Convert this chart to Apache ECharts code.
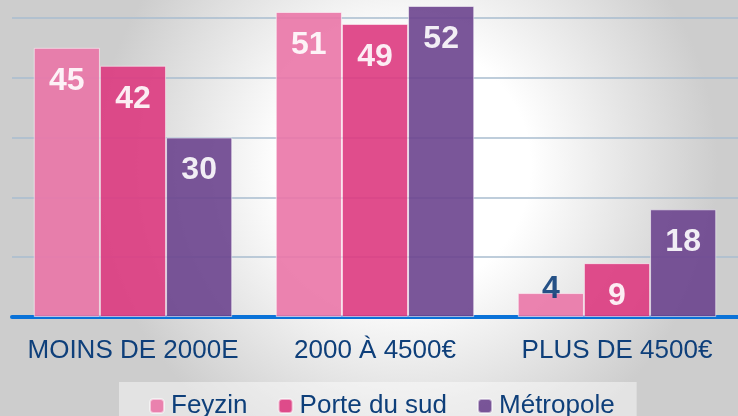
<!DOCTYPE html>
<html>
<head>
<meta charset="utf-8">
<script src="https://cdn.jsdelivr.net/npm/echarts@6/dist/echarts.min.js"></script>
<style>
  html, body { margin: 0; padding: 0; }
  #chart { width: 738px; height: 416px; }
</style>
</head>
<body>
<div id="chart"></div>
<script>
// revenus par tranche, en %
var categories = ['MOINS DE 2000E', '2000 À 4500€', 'PLUS DE 4500€'];
var seriesNames = ['Feyzin', 'Porte du sud', 'Métropole'];
var feyzin = [45, 51, 4];
var porteDuSud = [42, 49, 9];
var metropole = [30, 52, 18];

var colors = ['#ea76a7', '#dd3a80', '#6b448e'];
var navy = '#0e3f7a';

function barLabel(v) {
  // small bars get the number above, in dark blue
  if (v < 6) {
    return { value: v, label: { position: 'insideBottom', distance: 12, color: navy } };
  }
  return v;
}

function makeSeries(name, values, idx) {
  return {
    name: name,
    type: 'bar',
    barGap: 0,
    barCategoryGap: '18%',
    itemStyle: {
      color: colors[idx],
      opacity: 0.9,
      borderColor: 'rgba(255,255,255,0.6)',
      borderWidth: 1
    },
    label: {
      show: true,
      position: 'insideTop',
      distance: 17,
      color: '#fff',
      fontFamily: 'Liberation Sans, Arial, sans-serif',
      fontWeight: 'bold',
      fontSize: 32
    },
    data: values.map(barLabel)
  };
}

var chart = echarts.init(document.getElementById('chart'));
chart.setOption({
  backgroundColor: {
    type: 'radial', x: 0.55, y: 0.4, r: 0.75,
    colorStops: [
      { offset: 0, color: '#ffffff' },
      { offset: 0.4, color: '#ffffff' },
      { offset: 1, color: '#cdcdcd' }
    ]
  },
  animation: false,
  grid: { left: 12, right: 0, top: 0, bottom: 99 },
  legend: {
    left: 119,
    top: 382,
    padding: [11, 22, 20, 30],
    backgroundColor: 'rgba(255,255,255,0.45)',
    itemWidth: 14,
    itemHeight: 14,
    itemGap: 30,
    textStyle: {
      color: navy,
      fontSize: 26,
      fontFamily: 'Liberation Sans, Arial, sans-serif',
      padding: [0, 0, 0, 2]
    },
    data: seriesNames
  },
  xAxis: {
    type: 'category',
    data: categories,
    axisLine: { lineStyle: { color: '#0a72d8', width: 4 } },
    axisTick: { show: false },
    axisLabel: {
      color: navy,
      fontSize: 26,
      fontFamily: 'Liberation Sans, Arial, sans-serif',
      margin: 21,
      interval: 0
    }
  },
  yAxis: {
    type: 'value',
    min: 0,
    max: 53,
    interval: 10,
    axisLabel: { show: false },
    axisLine: { show: false },
    axisTick: { show: false },
    splitLine: { showMaxLine: false, lineStyle: { color: '#a9bccf', width: 1.5 } }
  },
  series: [
    makeSeries(seriesNames[0], feyzin, 0),
    makeSeries(seriesNames[1], porteDuSud, 1),
    makeSeries(seriesNames[2], metropole, 2)
  ]
});
</script>
</body>
</html>
